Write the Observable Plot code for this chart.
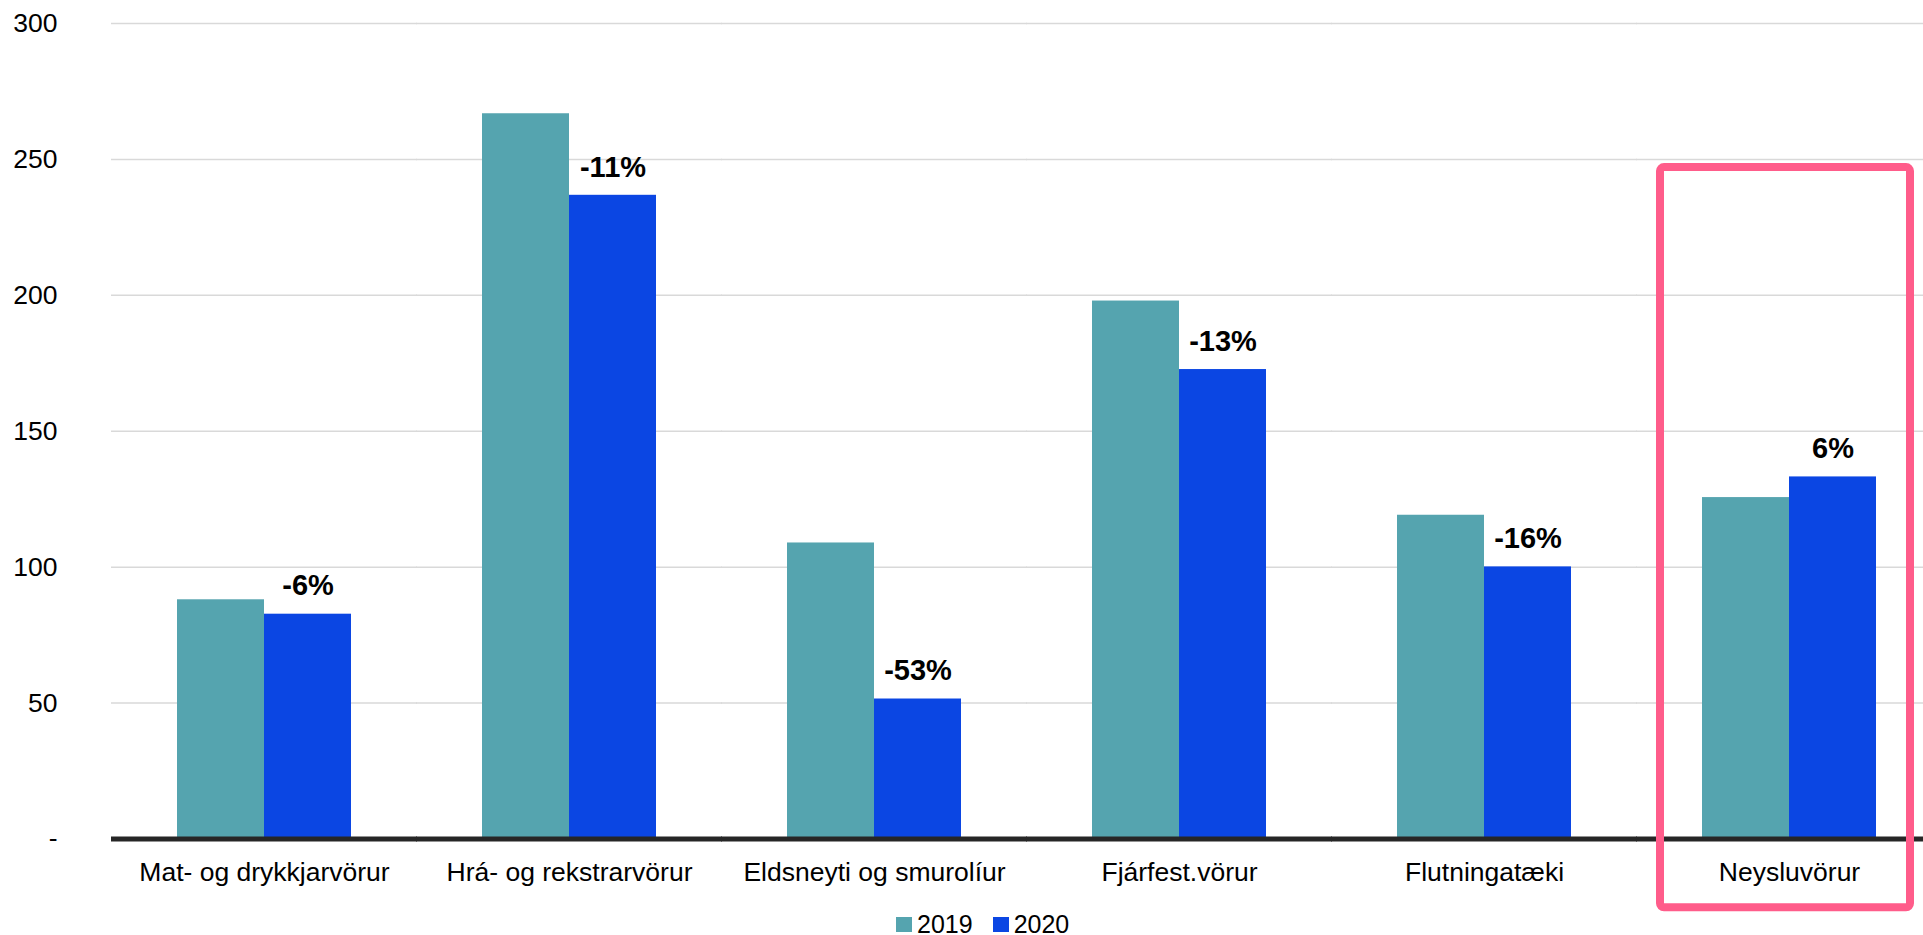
<!DOCTYPE html>
<html>
<head>
<meta charset="utf-8">
<script src="https://cdn.jsdelivr.net/npm/d3@7"></script>
<script src="https://cdn.jsdelivr.net/npm/@observablehq/plot@0.6"></script>
<style>
  html, body { margin: 0; padding: 0; background: #fff; }
  body { font-family: "Liberation Sans", Arial, sans-serif; width: 1923px; height: 935px; overflow: hidden; position: relative; }
  #legend { position: absolute; left: 896px; top: 909px; height: 30px; display: flex; align-items: center; font-size: 25px; color: #000; line-height: 30px; }
  .item { display: flex; align-items: center; margin-right: 20px; }
  .sw { width: 16px; height: 15px; margin-right: 5px; }
</style>
</head>
<body>
<div id="chart"></div>
<div id="legend"></div>
<script>
const categories = ["Mat- og drykkjarvörur", "Hrá- og rekstrarvörur", "Eldsneyti og smurolíur", "Fjárfest.vörur", "Flutningatæki", "Neysluvörur"];
const years = ["2019", "2020"];
const values2019 = [88.0, 266.8, 108.9, 197.9, 119.1, 125.6];
const values2020 = [82.7, 236.8, 51.5, 172.7, 100.1, 133.2];
const changeLabels = ["-6%", "-11%", "-53%", "-13%", "-16%", "6%"];
const yTicks = [0, 50, 100, 150, 200, 250, 300];
const highlighted = ["Neysluvörur"];
const colors = ["#55A4AF", "#0B46E3"];

const data = categories.flatMap((c, i) => [
  {category: c, year: years[0], value: values2019[i]},
  {category: c, year: years[1], value: values2020[i]}
]);
const labels = categories.map((c, i) => ({category: c, year: years[1], value: values2020[i], label: changeLabels[i]}));
const box = highlighted.map(c => ({category: c}));

// half of the gap between facet groups, so per-facet rules join into continuous lines
const gapHalf = -66;

const chart = Plot.plot({
  width: 1923,
  height: 905,
  marginLeft: 111,
  marginRight: -18,
  marginTop: 23,
  marginBottom: 66.5,
  style: {fontFamily: "'Liberation Sans', Arial, sans-serif", fontSize: "26.5px", color: "#000", background: "#fff", overflow: "visible"},
  fx: {domain: categories, paddingInner: 0.43, paddingOuter: 0.215, label: null},
  x: {domain: years, padding: 0, axis: null},
  y: {domain: [0, 300], label: null},
  color: {domain: years, range: colors},
  marks: [
    Plot.ruleY(yTicks.filter(d => d > 0), {stroke: "#d9d9d9", strokeWidth: 1.5, insetLeft: gapHalf, insetRight: gapHalf}),
    Plot.barY(data, {fx: "category", x: "year", y: "value", fill: "year"}),
    Plot.ruleY([0], {stroke: "#262626", strokeWidth: 5, insetLeft: gapHalf, insetRight: gapHalf}),
    Plot.text(labels, {fx: "category", x: "year", y: "value", text: "label", dy: -28, fontWeight: "bold", fontSize: 29, fill: "#000"}),
    Plot.rect(box, {fx: "category", y1: -25.3, y2: 247, insetLeft: -42, insetRight: -34, fill: "none", stroke: "#FF5C8A", strokeWidth: 8, rx: 4}),
    Plot.axisY({ticks: yTicks, tickSize: 0, tickPadding: 120, tickFormat: d => d === 0 ? "-" : d, fontSize: 26.5, label: null}),
    Plot.axisFx({anchor: "bottom", tickSize: 0, tickPadding: 23, fontSize: 26.5, label: null})
  ]
});
document.getElementById("chart").appendChild(chart);

const legend = document.getElementById("legend");
years.forEach((y, i) => {
  const item = document.createElement("div");
  item.className = "item";
  const sw = document.createElement("span");
  sw.className = "sw";
  sw.style.background = colors[i];
  const t = document.createElement("span");
  t.textContent = y;
  item.appendChild(sw);
  item.appendChild(t);
  legend.appendChild(item);
});
</script>
</body>
</html>
